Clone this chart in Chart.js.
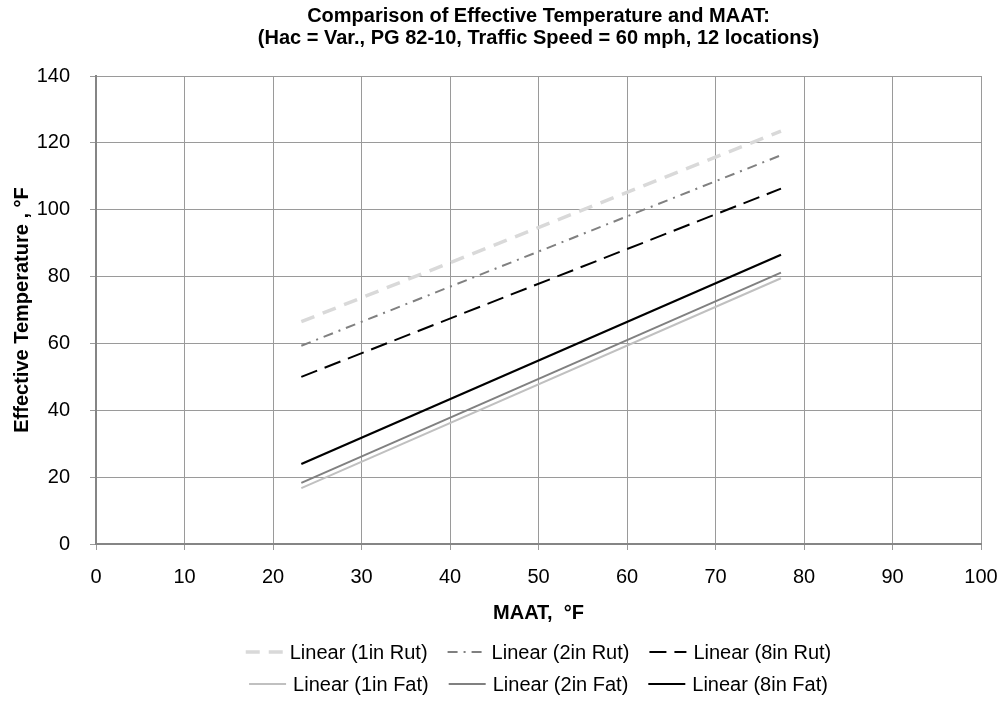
<!DOCTYPE html>
<html>
<head>
<meta charset="utf-8">
<script src="https://cdn.jsdelivr.net/npm/chart.js@4.4.1/dist/chart.umd.min.js"></script>
<style>
  html, body { margin: 0; padding: 0; background: #fff; }
  #wrap { width: 998px; height: 711px; }
</style>
</head>
<body>
<div id="wrap"><canvas id="chart" width="998" height="711"></canvas></div>
<script>
// fitted trend lines (start / end of each line)
const maat = [23.2, 77.4];
const rut1in = [66.5, 123.5];
const rut2in = [59.3, 116.3];
const rut8in = [50.0, 106.3];
const fat1in = [16.7, 79.5];
const fat2in = [18.3, 81.2];
const fat8in = [23.9, 86.5];

const seriesNames = [
    "Linear (1in Rut)", "Linear (2in Rut)", "Linear (8in Rut)",
    "Linear (1in Fat)", "Linear (2in Fat)", "Linear (8in Fat)"
];
const xTicks = [0, 10, 20, 30, 40, 50, 60, 70, 80, 90, 100];
const yTicks = [0, 20, 40, 60, 80, 100, 120, 140];

const FONT = "'Liberation Sans', Arial, sans-serif";

const toPoints = ys => maat.map((x, i) => ({ x, y: ys[i] }));

// legend drawn as two centred rows of three, like the original
const rowLegend = {
    id: "rowLegend",
    afterDraw(chart, args, opts) {
        const { ctx, chartArea } = chart;
        const sets = chart.data.datasets;
        ctx.save();
        ctx.font = opts.font;
        ctx.textBaseline = "middle";
        ctx.textAlign = "left";
        const cx = (chartArea.left + chartArea.right) / 2;
        opts.rows.forEach((row, r) => {
            const y = chartArea.bottom + opts.top + r * opts.rowHeight;
            const widths = row.map(i => opts.lineLength + opts.gap + ctx.measureText(sets[i].label).width);
            const total = widths.reduce((a, b) => a + b, 0) + opts.spacing * (row.length - 1);
            let x = cx - total / 2;
            row.forEach((i, k) => {
                const ds = sets[i];
                ctx.strokeStyle = ds.borderColor;
                ctx.lineWidth = ds.borderWidth;
                ctx.setLineDash(ds.borderDash || []);
                ctx.beginPath();
                ctx.moveTo(x, y);
                ctx.lineTo(x + opts.lineLength, y);
                ctx.stroke();
                ctx.setLineDash([]);
                ctx.fillStyle = "#000";
                ctx.fillText(ds.label, x + opts.lineLength + opts.gap, y + 1);
                x += widths[k] + opts.spacing;
            });
        });
        ctx.restore();
    }
};

const series = [
    { data: rut1in, color: "#d9d9d9", width: 3.5, dash: [14, 9] },
    { data: rut2in, color: "#808080", width: 2, dash: [10, 6, 2, 6] },
    { data: rut8in, color: "#000000", width: 2, dash: [17, 8] },
    { data: fat1in, color: "#c0c0c0", width: 2, dash: [] },
    { data: fat2in, color: "#808080", width: 2, dash: [] },
    { data: fat8in, color: "#000000", width: 2.2, dash: [] }
];

new Chart(document.getElementById("chart"), {
    type: "line",
    data: {
        datasets: series.map((s, i) => ({
            label: seriesNames[i],
            data: toPoints(s.data),
            borderColor: s.color,
            borderWidth: s.width,
            borderDash: s.dash,
            borderCapStyle: "butt",
            pointRadius: 0,
            fill: false,
            tension: 0
        }))
    },
    options: {
        responsive: false,
        animation: false,
        layout: { padding: { left: 8, right: 2, top: 5, bottom: 86 } },
        plugins: {
            legend: { display: false },
            tooltip: { enabled: false },
            title: {
                display: true,
                fullSize: false,
                text: [
                    "Comparison of Effective Temperature and MAAT:",
                    "(Hac = Var., PG 82-10, Traffic Speed = 60 mph, 12 locations)"
                ],
                color: "#000",
                font: { family: FONT, size: 20, weight: "bold", lineHeight: "22px" },
                padding: { top: 0, bottom: 27 }
            },
            rowLegend: {
                font: "20px " + FONT,
                rows: [[0, 1, 2], [3, 4, 5]],
                top: 108,
                rowHeight: 32,
                lineLength: 37,
                gap: 7,
                spacing: 20
            }
        },
        scales: {
            x: {
                type: "linear",
                min: 0,
                max: 100,
                afterBuildTicks: axis => { axis.ticks = xTicks.map(value => ({ value })); },
                afterFit: axis => {
                    axis.height = 81;
                    axis.paddingRight = 17;
                },
                grid: { color: "#9a9a9a", lineWidth: 1, tickLength: 6 },
                border: { color: "#858585", width: 2 },
                ticks: { color: "#000", font: { family: FONT, size: 20 }, padding: 15, maxRotation: 0 },
                title: {
                    display: true,
                    text: "MAAT,  °F",
                    color: "#000",
                    font: { family: FONT, size: 20, weight: "bold" },
                    padding: { top: 0, bottom: 0 }
                }
            },
            y: {
                type: "linear",
                min: 0,
                max: 140,
                afterBuildTicks: axis => { axis.ticks = yTicks.map(value => ({ value })); },
                afterFit: axis => { axis.width = 88; },
                grid: { color: "#9a9a9a", lineWidth: 1, tickLength: 6 },
                border: { color: "#858585", width: 2 },
                ticks: { color: "#000", font: { family: FONT, size: 20 }, padding: 20 },
                title: {
                    display: true,
                    text: "Effective Temperature , °F",
                    color: "#000",
                    font: { family: FONT, size: 20, weight: "bold" },
                    padding: { top: 2, bottom: 6 }
                }
            }
        }
    },
    plugins: [rowLegend]
});
</script>
</body>
</html>
